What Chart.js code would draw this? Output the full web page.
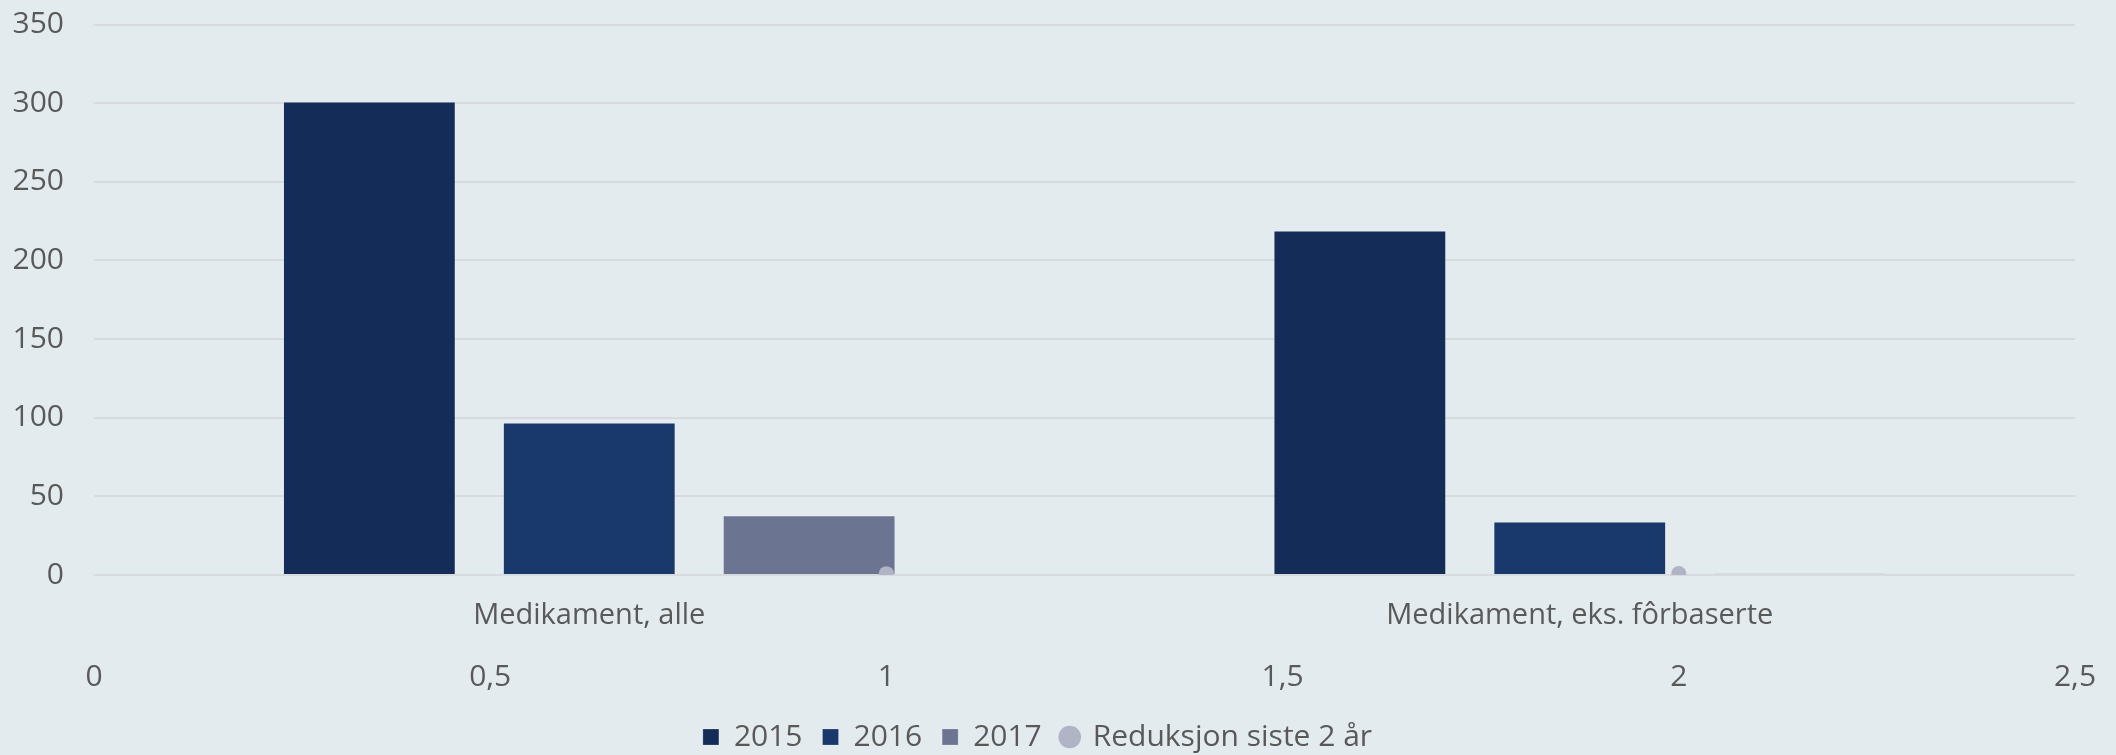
<!DOCTYPE html>
<html>
<head>
<meta charset="utf-8">
<script src="https://cdn.jsdelivr.net/npm/chart.js@4.4.1/dist/chart.umd.min.js"></script>
<style>
  html, body { margin: 0; padding: 0; width: 2116px; height: 755px; overflow: hidden; background: #e4ebef; }
  #wrap { width: 2116px; height: 762px; }
</style>
</head>
<body>
<div id="wrap"><canvas id="chart"></canvas></div>
<script>
// ---------- data ----------
const categories = ["Medikament, alle", "Medikament, eks. fôrbaserte"];
const years = ["2015", "2016", "2017"];
const values2015 = [301, 219];
const values2016 = [97, 34];
const values2017 = [38, 1];
const reductionX = [1, 2];
const reductionY = [0.87, 0.99];
const reductionLabel = "Reduksjon siste 2 år";

const barColors = ["#142d58", "#19386c", "#6b7591"];
const dotColor = "#b0b4c4";
const textColor = "#595959";
const gridColor = "#d7dbde";

Chart.defaults.font.family = "'Open Sans', sans-serif";
Chart.defaults.color = textColor;

// newer v4 builds split the bar groups per x axis id (the scatter's x2 counts too),
// which halves the bars - only the bars live on "x" here, so count one axis
if (Chart.BarController.prototype._getAxisCount) {
  Chart.BarController.prototype._getAxisCount = function () { return 1; };
}

const barSeries = [values2015, values2016, values2017];

const datasets = barSeries.map((vals, i) => ({
  type: "bar",
  label: years[i],
  data: vals,
  backgroundColor: barColors[i],
  borderColor: "rgba(255,255,255,0.2)",
  borderWidth: 1,
  pointStyle: "rect",
  categoryPercentage: 0.666,
  barPercentage: 0.786,
  xAxisID: "x",
  order: 1
}));

// reduction dots sit on the secondary (linear) x axis
datasets.push({
  type: "scatter",
  label: reductionLabel,
  data: reductionX.map((x, i) => ({ x: x, y: reductionY[i] })),
  backgroundColor: dotColor,
  borderWidth: 0,
  pointRadius: 7.5,
  pointStyle: "circle",
  xAxisID: "x2",
  order: 0
});

new Chart(document.getElementById("chart"), {
  type: "bar",
  data: { labels: categories, datasets: datasets },
  options: {
    responsive: true,
    maintainAspectRatio: false,
    animation: false,
    devicePixelRatio: 1,
    layout: { padding: { top: 0, right: 41, left: 0, bottom: 0 } },
    plugins: {
      tooltip: { enabled: false },
      legend: {
        position: "bottom",
        labels: {
          usePointStyle: true,
          boxWidth: 16,
          boxHeight: 16,
          padding: 20,
          color: textColor,
          font: { size: 30 },
          sort: (a, b) => a.datasetIndex - b.datasetIndex
        }
      }
    },
    scales: {
      x: {
        type: "category",
        position: "bottom",
        weight: 0,
        grid: { display: false, drawTicks: false },
        border: { display: false },
        ticks: { padding: 23, font: { size: 29 }, color: textColor, maxRotation: 0 },
        afterFit: (s) => { s.height = 55; s.paddingLeft = 0; s.paddingRight = 0; }
      },
      x2: {
        type: "linear",
        position: "bottom",
        weight: 1,
        offset: false,
        min: 0,
        max: 2.5,
        grid: { display: false, drawTicks: false },
        border: { display: false },
        ticks: {
          stepSize: 0.5,
          padding: 29,
          font: { size: 30 },
          color: textColor,
          callback: (v) => String(v).replace(".", ",")
        },
        afterFit: (s) => { s.height = 72; s.paddingLeft = 0; s.paddingRight = 0; }
      },
      y: {
        min: 0,
        max: 350,
        grid: { color: gridColor, lineWidth: 2, drawTicks: false },
        border: { display: false },
        ticks: { stepSize: 50, padding: 30, font: { size: 30 }, color: textColor },
        afterFit: (s) => { s.width = 94; s.paddingTop = 24.5; s.paddingBottom = 0; }
      }
    }
  }
});
</script>
</body>
</html>
